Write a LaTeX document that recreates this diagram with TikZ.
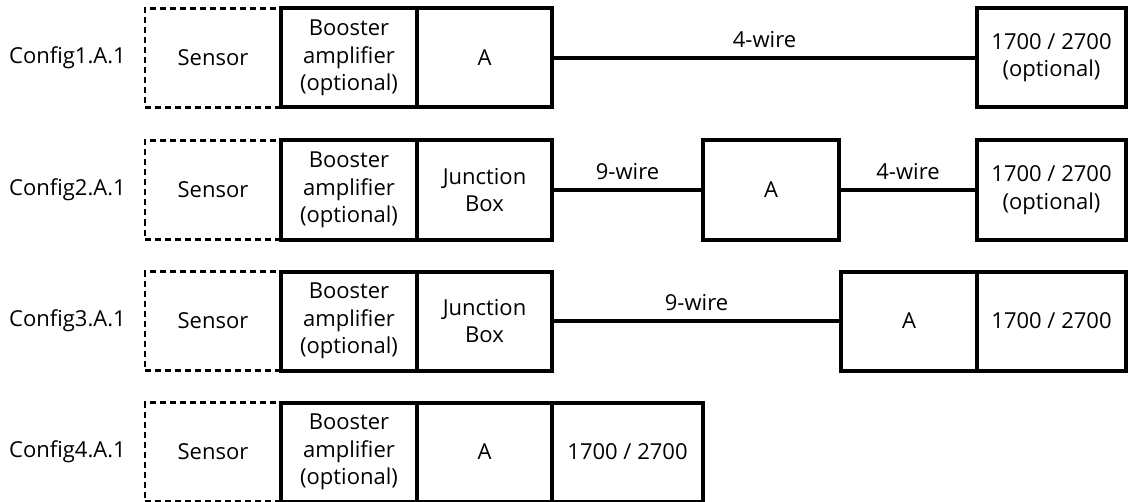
\documentclass[tikz,border=0pt]{standalone}
\usepackage{fontspec}
\setmainfont{Open Sans}
\begin{document}
\begin{tikzpicture}[x=0.75pt,y=-0.75pt,
  txt/.style={font=\fontsize{16.5}{20.5}\selectfont},
  box/.style={txt, draw, line width=3pt, rectangle, inner sep=0pt, outer sep=0pt, align=center, minimum height=74.25pt},
  sensorbox/.style={txt, draw, line width=1.8pt, dash pattern=on 4.5pt off 3pt, rectangle, inner sep=0pt, outer sep=0pt, minimum height=74.25pt, minimum width=102pt},
  wire/.style={line width=3pt},
  cfg/.style={txt, anchor=east, inner sep=0pt},
  lab/.style={txt, above=6pt, inner sep=0pt}
]
\useasboundingbox (0,0) rectangle (1130,502);

% Row 1
\node[cfg] (c1) at (126,58) {Config1.A.1};
\node[sensorbox] (s1) at (213,58) {Sensor};
\node[box, minimum width=102pt] (b1) at (349,58) {Booster\\amplifier\\(optional)};
\node[box, minimum width=101.25pt] (a1) at (484.5,58) {A};
\node[box, minimum width=111.75pt] (p1) at (1051.5,58) {1700 / 2700\\(optional)};
\draw[wire] (a1.east) -- node[lab] {4-wire} (p1.west);

% Row 2
\node[cfg] (c2) at (126,190) {Config2.A.1};
\node[sensorbox] (s2) at (213,190) {Sensor};
\node[box, minimum width=102pt] (b2) at (349,190) {Booster\\amplifier\\(optional)};
\node[box, minimum width=101.25pt] (j2) at (484.5,190) {Junction\\Box};
\node[box, minimum width=102pt] (a2) at (771,190) {A};
\node[box, minimum width=111.75pt] (p2) at (1051.5,190) {1700 / 2700\\(optional)};
\draw[wire] (j2.east) -- node[lab] {9-wire} (a2.west);
\draw[wire] (a2.east) -- node[lab] {4-wire} (p2.west);

% Row 3
\node[cfg] (c3) at (126,321) {Config3.A.1};
\node[sensorbox] (s3) at (213,321) {Sensor};
\node[box, minimum width=102pt] (b3) at (349,321) {Booster\\amplifier\\(optional)};
\node[box, minimum width=101.25pt] (j3) at (484.5,321) {Junction\\Box};
\node[box, minimum width=102pt] (a3) at (909,321) {A};
\node[box, minimum width=111.75pt] (p3) at (1051.5,321) {1700 / 2700};
\draw[wire] (j3.east) -- node[lab] {9-wire} (a3.west);

% Row 4
\node[cfg] (c4) at (126,452) {Config4.A.1};
\node[sensorbox] (s4) at (213,452) {Sensor};
\node[box, minimum width=102pt] (b4) at (349,452) {Booster\\amplifier\\(optional)};
\node[box, minimum width=101.25pt] (a4) at (484.5,452) {A};
\node[box, minimum width=113.25pt] (p4) at (627.5,452) {1700 / 2700};
\end{tikzpicture}
\end{document}
